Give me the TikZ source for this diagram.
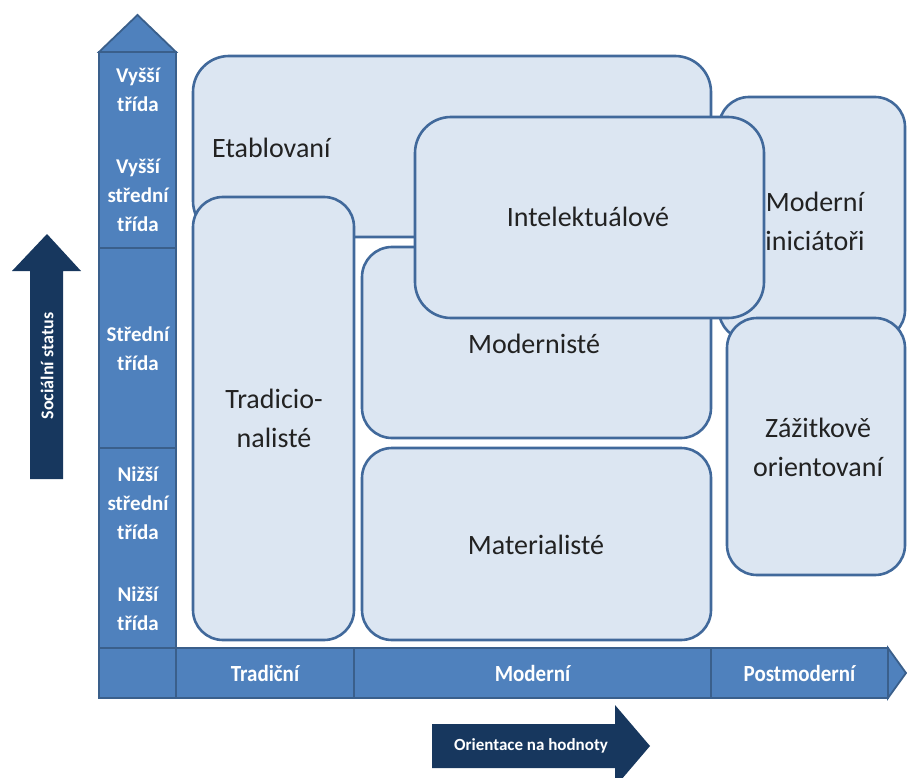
\documentclass[tikz,border=0pt]{standalone}
\usepackage{fontspec}
\setmainfont{Carlito}
\definecolor{segfill}{HTML}{4F81BD}
\definecolor{segline}{HTML}{3A5F8B}
\definecolor{darkarrow}{HTML}{17375E}
\definecolor{boxfill}{HTML}{DCE6F2}
\definecolor{boxline}{HTML}{41699B}
\definecolor{boxtxt}{HTML}{222222}
\begin{document}
\begin{tikzpicture}[x=1pt,y=-1pt,
  seg/.style={draw=segline, fill=segfill, line width=1.8pt, inner sep=0pt, outer sep=0pt},
  pbox/.style={draw=boxline, fill=boxfill, line width=2.6pt, rounded corners=32pt, inner sep=0pt, outer sep=0pt},
  boxtext/.style={font=\fontsize{28}{39}\selectfont, text=boxtxt, align=center, inner sep=0pt},
  collabel/.style={font=\fontsize{21}{29}\selectfont\bfseries, text=white, align=center, inner sep=0pt},
  rowlabel/.style={font=\fontsize{21}{24}\selectfont\bfseries, text=white, align=center, inner sep=0pt, yscale=1.1},
  darklabel/.style={font=\bfseries, text=white, inner sep=0pt}]
\useasboundingbox (0,0) rectangle (907,778);

% axis column
\node[seg, minimum width=77pt, minimum height=196pt] (c1) at (137.5,150) {};
\node[seg, minimum width=77pt, minimum height=200pt] (c2) at (137.5,348) {};
\node[seg, minimum width=77pt, minimum height=200pt] (c3) at (137.5,548) {};
\node[seg, minimum width=77pt, minimum height=50pt] (c0) at (137.5,673) {};
\coordinate (topapex) at (137.5,15);
\draw[seg, line join=miter] (c1.north west) -- (topapex) -- (c1.north east) -- cycle;

% axis row
\node[seg, minimum width=178pt, minimum height=50pt] (bt) at (265,673) {};
\node[seg, minimum width=357pt, minimum height=50pt] (bm) at (532.5,673) {};
\node[seg, minimum width=177pt, minimum height=50pt] (bp) at (799.5,673) {};
\coordinate (rightapex) at (906,673);
\draw[seg, line join=miter] (bp.north east) -- (rightapex) -- (bp.south east) -- cycle;

% column labels
\node[collabel] (l1) at (138,90) {Vyšší\\třída};
\node[collabel] (l2) at (138,195) {Vyšší\\střední\\třída};
\node[collabel] (l3) at (138,349) {Střední\\třída};
\node[collabel] (l4) at (138,503) {Nižší\\střední\\třída};
\node[collabel] (l5) at (138,609) {Nižší\\třída};

% row labels
\node[rowlabel] (rt) at (bt) {Tradiční};
\node[rowlabel] (rm) at (bm) {Moderní};
\node[rowlabel] (rp) at (bp) {Postmoderní};

% milieu boxes
\node[pbox, rounded corners=36pt, minimum width=518pt, minimum height=181pt] (etab) at (452,146.5) {};
\node[pbox, rounded corners=30pt, minimum width=161pt, minimum height=443pt] (trad) at (273.5,418.5) {};
\node[pbox, rounded corners=30pt, minimum width=349pt, minimum height=191pt] (modst) at (536.5,342.5) {};
\node[pbox, rounded corners=30pt, minimum width=349pt, minimum height=192pt] (mat) at (536.5,544) {};
\node[pbox, rounded corners=30pt, minimum width=186pt, minimum height=243pt] (modini) at (812,218.5) {};
\node[pbox, rounded corners=36pt, minimum width=349pt, minimum height=201pt] (intel) at (589.5,217.5) {};
\node[pbox, rounded corners=30pt, minimum width=178pt, minimum height=257pt] (zaz) at (816,446.5) {};

\node[boxtext, anchor=west] (etabt) at (212,148) {Etablovaní};
\node[boxtext] (tradt) at (274,418) {Tradicio-\\nalisté};
\node[boxtext] (modstt) at (534,344) {Modernisté};
\node[boxtext] (matt) at (536,545) {Materialisté};
\node[boxtext] (intelt) at (588,217) {Intelektuálové};
\node[boxtext] (modinit) at (815,221) {Moderní\\iniciátoři};
\node[boxtext] (zazt) at (818,447) {Zážitkově\\orientovaní};

% social status arrow
\draw[fill=darkarrow, draw=none] (30,479) -- (30,271) -- (12,271) -- (47,234) -- (81,271) -- (63,271) -- (63,479) -- cycle;
\node[darklabel, font=\fontsize{18}{20}\selectfont\bfseries, rotate=90] (sst) at (47,366) {Sociální status};

% value orientation arrow
\draw[fill=darkarrow, draw=none] (432,724) -- (615,724) -- (615,705) -- (650,746) -- (615,787) -- (615,768) -- (432,768) -- cycle;
\node[darklabel, font=\fontsize{17}{19}\selectfont\bfseries] (ont) at (531,746) {Orientace na hodnoty};
\end{tikzpicture}
\end{document}
